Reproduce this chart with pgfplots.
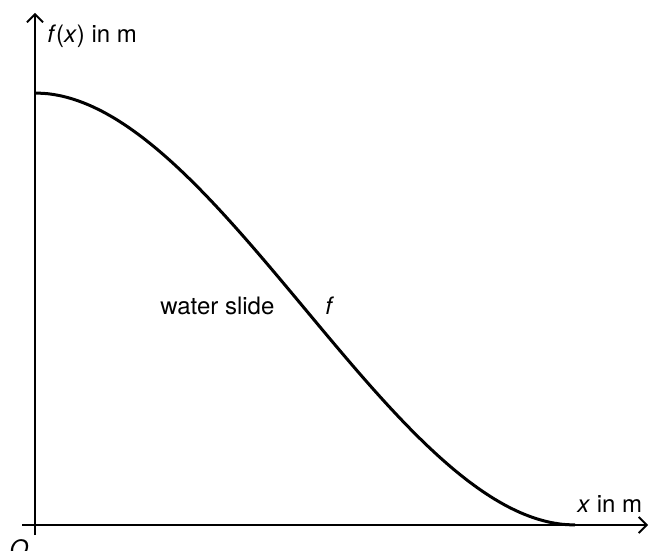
\documentclass[border=0pt]{standalone}
\usepackage{pgfplots}
\pgfplotsset{compat=1.18}
\usepackage{fontspec}
\setmainfont{TeX Gyre Heros}
\usetikzlibrary{arrows.meta}
\newcommand{\lf}{\fontsize{12}{14}\selectfont}
\begin{document}
\begin{tikzpicture}
\begin{axis}[
  x=5pt, y=5pt,
  axis lines=middle,
  axis line style={line width=1pt, -{Straight Barb[length=4pt,width=8pt,line width=0.9pt]}},
  xmin=-1.3, xmax=61.3, ymin=-1.0, ymax=51.2,
  xtick=\empty, ytick=\empty,
  clip=false,
]
\addplot[black, line width=1.5pt, smooth] coordinates {
(0,43.2) (1.35,43.120) (2.7,42.887) (4.05,42.507) (5.4,41.990) (6.75,41.344)
(8.1,40.576) (9.45,39.694) (10.8,38.707) (12.15,37.623) (13.5,36.45)
(14.85,35.196) (16.2,33.869) (17.55,32.477) (18.9,31.028) (20.25,29.531)
(21.6,27.994) (22.95,26.424) (24.3,24.829) (25.65,23.219) (27,21.6)
(28.35,19.981) (29.7,18.371) (31.05,16.776) (32.4,15.206) (33.75,13.669)
(35.1,12.172) (36.45,10.723) (37.8,9.331) (39.15,8.004) (40.5,6.75)
(41.85,5.577) (43.2,4.493) (44.55,3.506) (45.9,2.624) (47.25,1.856)
(48.6,1.210) (49.95,0.693) (51.3,0.313) (52.65,0.080) (54,0)
};
\node[anchor=base west, inner sep=0pt, font=\lf] at (axis cs:1.2,48.2) {\textit{f}(\textit{x}) in m};
\node[anchor=base west, inner sep=0pt, font=\lf] at (axis cs:54.2,1.3) {\textit{x} in m};
\node[anchor=base west, inner sep=0pt, font=\lf] at (axis cs:12.5,21.0) {water slide};
\node[anchor=base west, inner sep=0pt, font=\lf] at (axis cs:29.0,21.0) {\textit{f}};
\node[anchor=base, inner sep=0pt, font=\lf] at (axis cs:-1.6,-3.2) {\textit{O}};
\coordinate (bl) at (axis cs:-3.5,-2.5);
\coordinate (tr) at (axis cs:61.6,52.5);
\end{axis}
\pgfresetboundingbox
\path[use as bounding box] (bl) rectangle (tr);
\end{tikzpicture}
\end{document}
